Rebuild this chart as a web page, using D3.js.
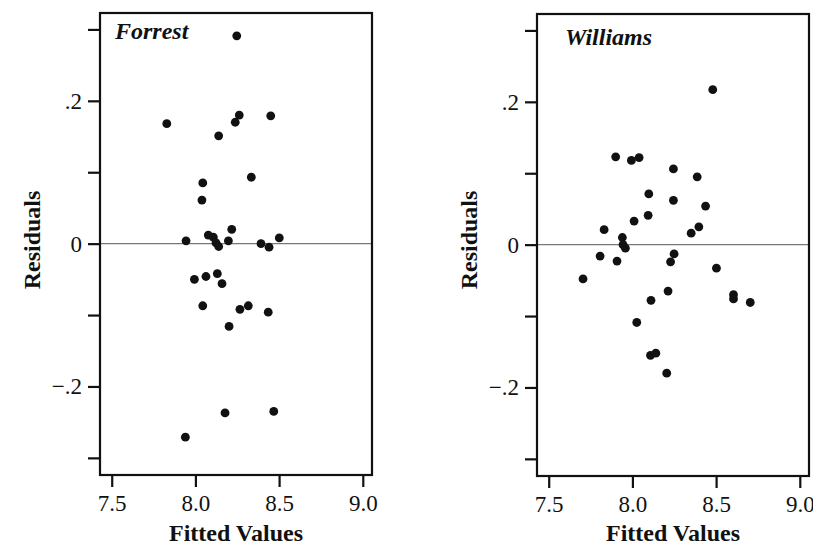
<!DOCTYPE html>
<html>
<head>
<meta charset="utf-8">
<script src="https://cdn.jsdelivr.net/npm/d3@7"></script>
<style>
  html, body { margin: 0; padding: 0; background: #fff; }
  svg { display: block; }
  text { font-family: "Liberation Serif", "Times New Roman", serif; fill: #111; }
</style>
</head>
<body>
<svg id="chart" width="813" height="549"></svg>
<script>
// ---- data ----
const panelNames = ["Forrest", "Williams"];
const forrestFitted = [8.247, 7.829, 8.262, 8.238, 8.450, 8.139, 8.334, 8.044, 8.039, 8.217, 7.944, 8.077, 8.107, 8.123, 8.139, 8.197, 8.392, 8.440, 8.501, 7.994, 8.063, 8.131, 8.159, 8.044, 8.266, 8.316, 8.435, 8.201, 8.177, 8.468, 7.940];
const forrestResid  = [0.291, 0.168, 0.180, 0.170, 0.179, 0.151, 0.093, 0.085, 0.061, 0.020, 0.004, 0.012, 0.009, 0.001, -0.004, 0.004, 0.000, -0.005, 0.008, -0.050, -0.046, -0.042, -0.056, -0.087, -0.092, -0.087, -0.096, -0.116, -0.237, -0.235, -0.271];
const williamsFitted = [8.480, 7.900, 7.994, 8.040, 8.245, 8.387, 8.098, 8.245, 8.437, 8.094, 8.010, 7.831, 8.397, 8.351, 7.940, 7.944, 7.958, 7.807, 7.908, 8.249, 8.228, 8.502, 7.705, 8.213, 8.111, 8.604, 8.604, 8.704, 8.026, 8.108, 8.140, 8.205];
const williamsResid  = [0.217, 0.123, 0.118, 0.122, 0.106, 0.095, 0.071, 0.062, 0.054, 0.041, 0.033, 0.021, 0.025, 0.016, 0.010, 0.000, -0.005, -0.016, -0.023, -0.013, -0.024, -0.033, -0.048, -0.065, -0.078, -0.070, -0.076, -0.081, -0.109, -0.155, -0.152, -0.180];
const xTicks = [7.5, 8.0, 8.5, 9.0];
const xTickLabels = ["7.5", "8.0", "8.5", "9.0"];
const yTicks = [-0.3, -0.2, -0.1, 0, 0.1, 0.2, 0.3];
const yTickLabels = ["", "\u2212.2", "", "0", "", ".2", ""];
const xTitle = "Fitted Values";
const yTitle = "Residuals";

const panels = [
  { name: panelNames[0], fitted: forrestFitted, resid: forrestResid, left: 100, top: 13, titleX: 15, titleY: 26 },
  { name: panelNames[1], fitted: williamsFitted, resid: williamsResid, left: 537, top: 14, titleX: 28, titleY: 31 }
];
const W = 272, H = 462;

const svg = d3.select("#chart");

panels.forEach(p => {
  const g = svg.append("g").attr("transform", `translate(${p.left},${p.top})`);
  const x = d3.scaleLinear().domain([7.43, 9.055]).range([0, W]);
  const y = d3.scaleLinear().domain([-0.324, 0.323]).range([H, 0]);

  // zero reference line
  g.append("line")
    .attr("x1", 0).attr("x2", W)
    .attr("y1", y(0)).attr("y2", y(0))
    .attr("stroke", "#777").attr("stroke-width", 1.2);

  // points
  g.selectAll("circle.pt")
    .data(p.fitted.map((f, i) => [f, p.resid[i]]))
    .join("circle")
    .attr("class", "pt")
    .attr("cx", d => x(d[0]))
    .attr("cy", d => y(d[1]))
    .attr("r", 4.4)
    .attr("fill", "#111");

  // frame
  g.append("rect")
    .attr("x", 0).attr("y", 0).attr("width", W).attr("height", H)
    .attr("fill", "none").attr("stroke", "#111").attr("stroke-width", 2.2);

  // x axis
  const xAxis = d3.axisBottom(x).tickValues(xTicks)
    .tickFormat((d, i) => xTickLabels[i]).tickSize(12).tickPadding(8);
  const gx = g.append("g").attr("transform", `translate(0,${H})`).call(xAxis);
  gx.select(".domain").remove();
  gx.selectAll(".tick line").attr("stroke", "#111").attr("stroke-width", 2.2);
  gx.selectAll(".tick text").attr("font-size", 23).attr("font-family", "Liberation Serif").attr("fill", "#111");

  // y axis
  const yAxis = d3.axisLeft(y).tickValues(yTicks)
    .tickFormat((d, i) => yTickLabels[i]).tickSize(12).tickPadding(6);
  const gy = g.append("g").call(yAxis);
  gy.select(".domain").remove();
  gy.selectAll(".tick line").attr("stroke", "#111").attr("stroke-width", 2.2);
  gy.selectAll(".tick text").attr("font-size", 23).attr("font-family", "Liberation Serif").attr("fill", "#111");

  // panel title
  g.append("text")
    .attr("x", p.titleX).attr("y", p.titleY)
    .attr("font-size", 24).attr("font-weight", "bold").attr("font-style", "italic")
    .text(p.name);

  // axis titles
  g.append("text")
    .attr("x", W / 2).attr("y", 541 - p.top)
    .attr("text-anchor", "middle")
    .attr("font-size", 24).attr("font-weight", "bold")
    .text(xTitle);

  g.append("text")
    .attr("transform", `translate(${-60},${240 - p.top}) rotate(-90)`)
    .attr("text-anchor", "middle")
    .attr("font-size", 24).attr("font-weight", "bold")
    .text(yTitle);
});
</script>
</body>
</html>
